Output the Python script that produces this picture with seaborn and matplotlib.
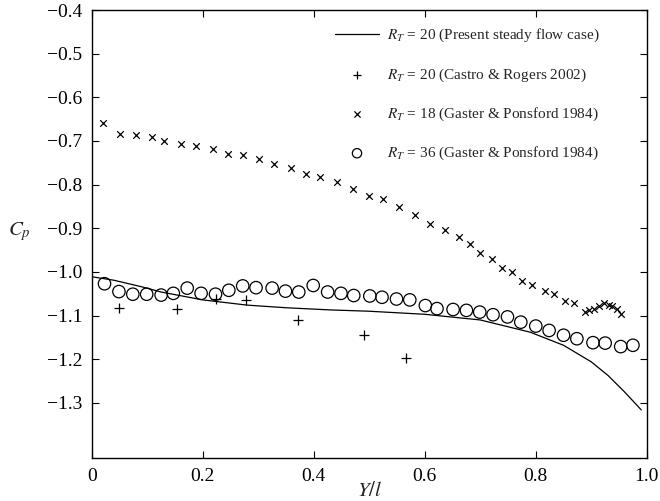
import matplotlib
matplotlib.use("Agg")
import matplotlib.pyplot as plt
import seaborn as sns
import numpy as np

# present steady flow case, R_T = 20 (solid line)
line_x = [0.0, 0.04, 0.09, 0.125, 0.2, 0.28, 0.35, 0.43, 0.5, 0.6, 0.7, 0.79, 0.85, 0.9, 0.93, 0.96, 0.99]
line_y = [-1.011, -1.019, -1.034, -1.046, -1.064, -1.076, -1.082, -1.087, -1.090, -1.097, -1.110,
          -1.138, -1.168, -1.206, -1.237, -1.275, -1.316]

# Castro & Rogers 2002, R_T = 20 (+)
cr_x = [0.050, 0.154, 0.224, 0.278, 0.372, 0.491, 0.566]
cr_y = [-1.082, -1.085, -1.062, -1.064, -1.109, -1.145, -1.197]

# Gaster & Ponsford 1984, R_T = 18 (x)
gp18_x = [0.021, 0.051, 0.079, 0.108, 0.131, 0.161, 0.188, 0.219, 0.246, 0.272, 0.301, 0.328,
          0.359, 0.386, 0.412, 0.441, 0.471, 0.499, 0.525, 0.553, 0.583, 0.610, 0.637, 0.662,
          0.682, 0.700, 0.721, 0.740, 0.757, 0.776, 0.793, 0.816, 0.832, 0.853, 0.868, 0.889,
          0.896, 0.904, 0.914, 0.922, 0.931, 0.938, 0.947, 0.954]
gp18_y = [-0.658, -0.683, -0.687, -0.691, -0.701, -0.708, -0.711, -0.719, -0.730, -0.732, -0.742,
          -0.753, -0.763, -0.775, -0.782, -0.794, -0.810, -0.825, -0.833, -0.851, -0.869, -0.890,
          -0.905, -0.920, -0.936, -0.957, -0.970, -0.991, -0.999, -1.020, -1.030, -1.043, -1.051,
          -1.067, -1.072, -1.091, -1.088, -1.085, -1.079, -1.071, -1.075, -1.079, -1.085, -1.097]

# Gaster & Ponsford 1984, R_T = 36 (o)
gp36_x = [0.023, 0.049, 0.074, 0.099, 0.125, 0.147, 0.172, 0.197, 0.223, 0.247, 0.272, 0.296,
          0.325, 0.349, 0.373, 0.399, 0.425, 0.449, 0.472, 0.501, 0.523, 0.549, 0.573, 0.601,
          0.622, 0.651, 0.675, 0.699, 0.723, 0.749, 0.773, 0.800, 0.824, 0.850, 0.874, 0.903,
          0.925, 0.953, 0.975]
gp36_y = [-1.027, -1.045, -1.051, -1.051, -1.053, -1.049, -1.037, -1.049, -1.051, -1.042, -1.032,
          -1.036, -1.037, -1.044, -1.046, -1.031, -1.046, -1.049, -1.054, -1.055, -1.058, -1.062,
          -1.064, -1.077, -1.084, -1.086, -1.088, -1.092, -1.098, -1.103, -1.115, -1.124, -1.134,
          -1.145, -1.153, -1.162, -1.163, -1.171, -1.168]

xticks = [0, 0.2, 0.4, 0.6, 0.8, 1.0]
xtick_labels = ["0", "0.2", "0.4", "0.6", "0.8", "1.0"]
yticks = [-1.3, -1.2, -1.1, -1.0, -0.9, -0.8, -0.7, -0.6, -0.5, -0.4]

sns.set_style("ticks")
serif = ["Liberation Serif", "DejaVu Serif"]
plt.rcParams["font.family"] = serif
plt.rcParams["mathtext.fontset"] = "stix"

fig, ax = plt.subplots(figsize=(6.6, 5.01), dpi=100)
fig.subplots_adjust(left=0.139, right=0.980, top=0.980, bottom=0.086)

sns.lineplot(x=line_x, y=line_y, ax=ax, color="k", linewidth=0.9,
             label=r"$R_T$ = 20 (Present steady flow case)")
sns.scatterplot(x=cr_x, y=cr_y, ax=ax, marker="+", color="k", s=50, linewidth=0.9,
                label=r"$R_T$ = 20 (Castro & Rogers 2002)")
sns.scatterplot(x=gp18_x, y=gp18_y, ax=ax, marker="x", color="k", s=22, linewidth=0.9,
                label=r"$R_T$ = 18 (Gaster & Ponsford 1984)")
sns.scatterplot(x=gp36_x, y=gp36_y, ax=ax, marker="o", facecolor="none", edgecolor="k",
                s=80, linewidth=0.9, label=r"$R_T$ = 36 (Gaster & Ponsford 1984)")

ax.set_xlim(0, 1.0)
ax.set_ylim(-1.426, -0.4)
ax.set_xticks(xticks)
ax.set_xticklabels(xtick_labels)
ax.set_yticks(yticks)
ax.set_yticklabels([f"{v:.1f}".replace("-", "\u2212") for v in yticks])
ax.tick_params(direction="in", top=True, right=True, length=5, width=0.8,
               labelsize=14, pad=7, colors="k")
for lbl in ax.get_xticklabels() + ax.get_yticklabels():
    lbl.set_fontfamily(serif)
for sp in ax.spines.values():
    sp.set_linewidth(1.0)
    sp.set_color("k")

ax.set_xlabel(r"$Y/l$", fontsize=15)
ax.set_ylabel(r"$C_p$", fontsize=15, rotation=0, va="center")
ax.xaxis.set_label_coords(0.5, -0.054)
ax.yaxis.set_label_coords(-0.131, 0.505)

leg = ax.legend(loc="upper left", bbox_to_anchor=(0.438, 0.962), frameon=False, fontsize=11,
                borderpad=0, borderaxespad=0, handlelength=2.9, handletextpad=0.5,
                labelspacing=1.44, scatterpoints=1)
leg.legend_handles[1].set_sizes([40])
leg.legend_handles[2].set_sizes([20])
leg.legend_handles[3].set_sizes([45])

fig.savefig("out.png", dpi=100)
